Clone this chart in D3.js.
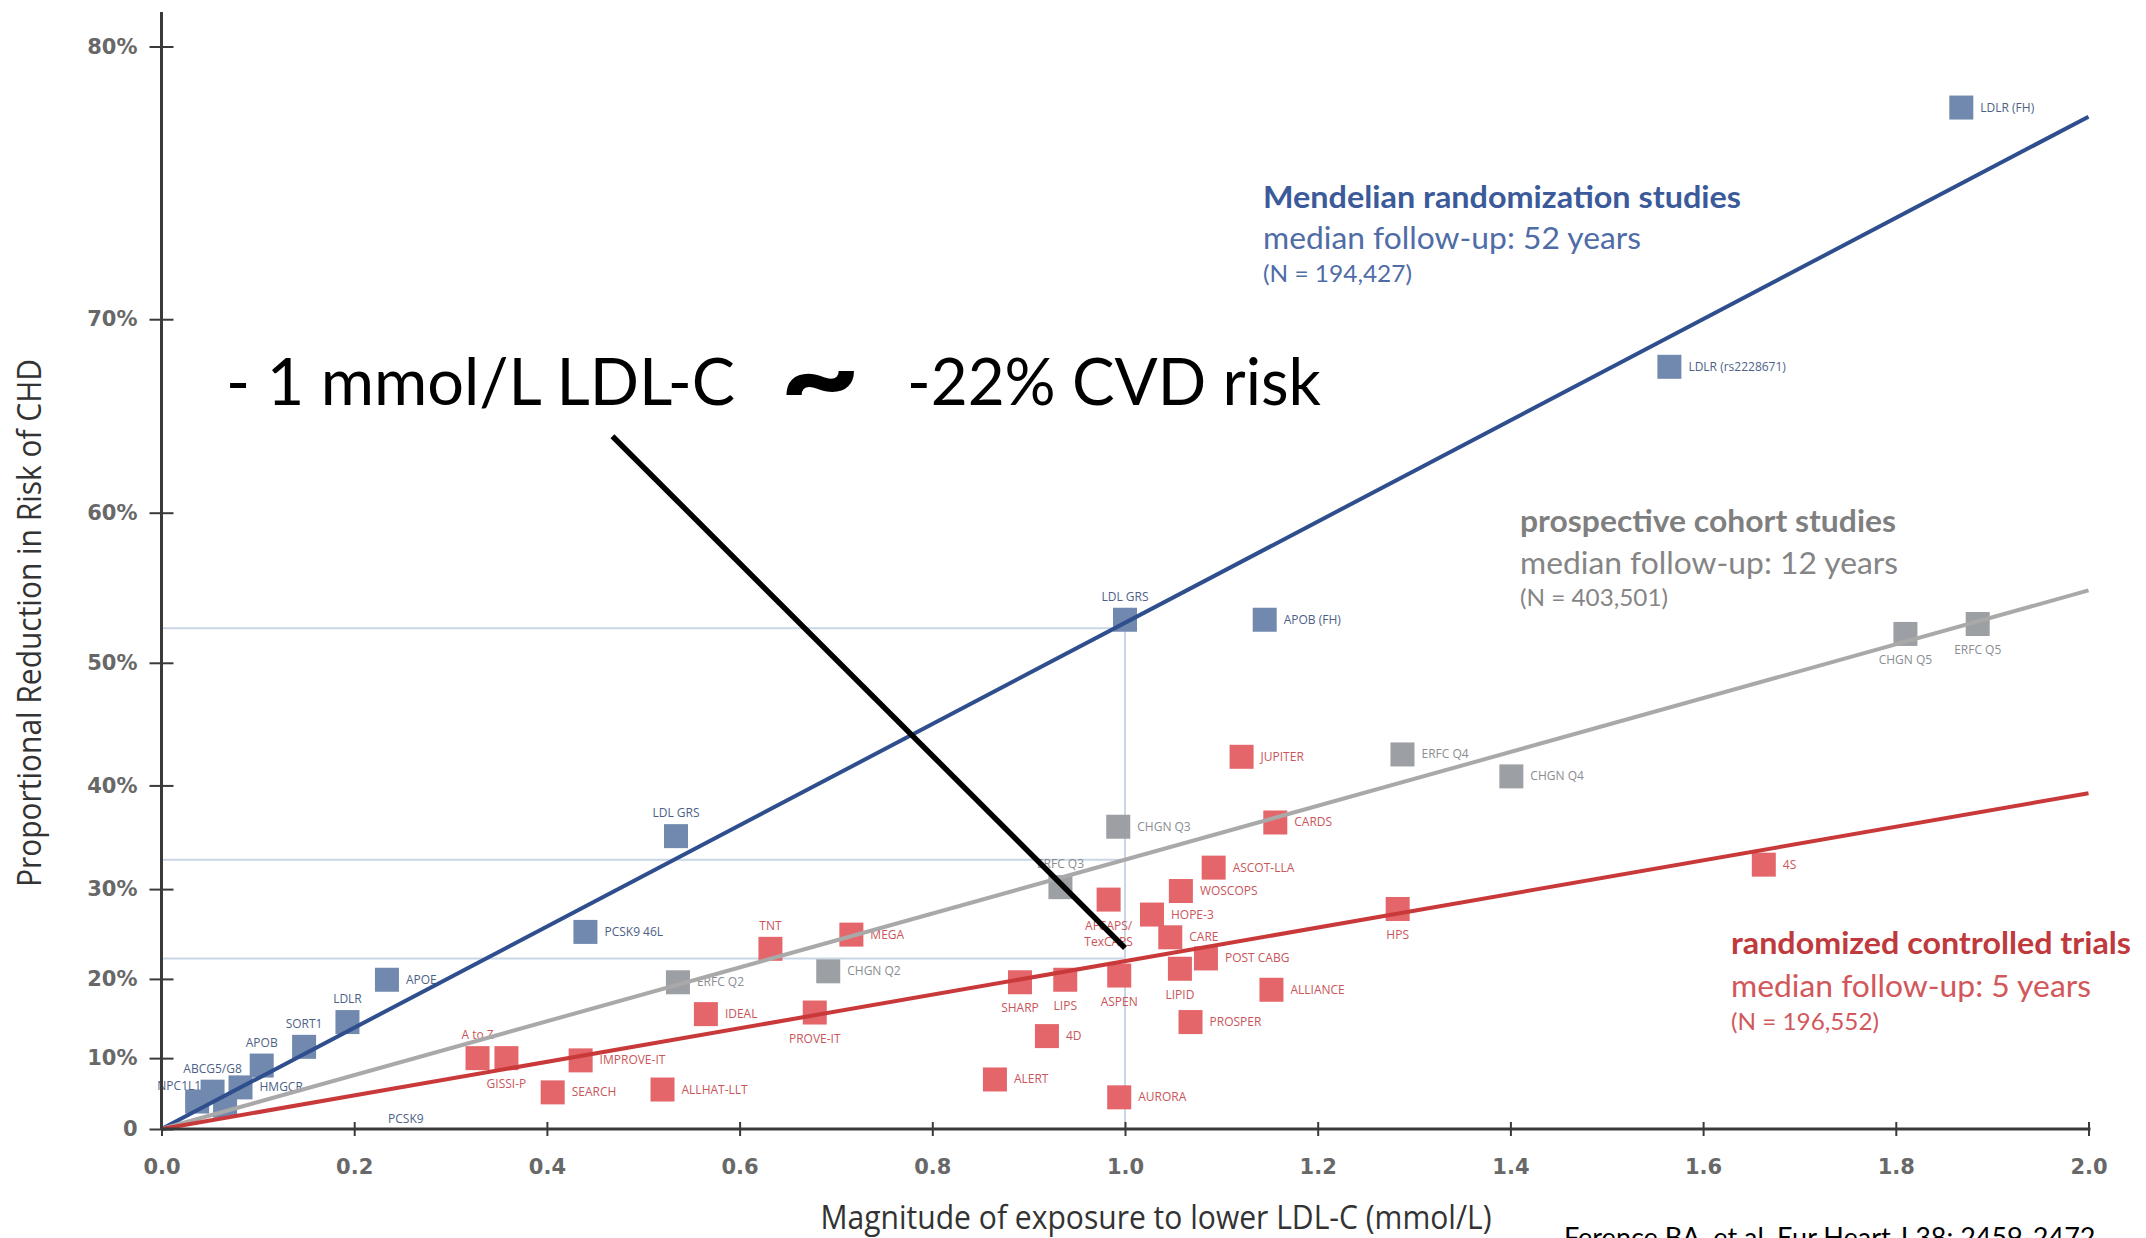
<!DOCTYPE html>
<html>
<head>
<meta charset="utf-8">
<script src="https://cdn.jsdelivr.net/npm/d3@7"></script>
<style>
  body { margin: 0; background: #fff; }
  svg { display: block; }
</style>
</head>
<body>
<svg id="chart" width="2146" height="1238"></svg>
<script>
// x = magnitude of LDL-C lowering (mmol/L), y = proportional reduction in CHD risk (%)
var mrNames = ["LDLR (FH)", "LDLR (rs2228671)", "APOB (FH)", "LDL GRS", "LDL GRS", "PCSK9 46L", "APOE", "LDLR", "SORT1", "APOB", "ABCG5/G8", "NPC1L1", "HMGCR", "PCSK9"];
var mrX = [1.868, 1.565, 1.145, 1.000, 0.534, 0.440, 0.234, 0.193, 0.148, 0.104, 0.053, 0.037, 0.082, 0.066];
var mrY = [78.1, 67.8, 53.1, 53.1, 35.3, 25.4, 19.9, 14.7, 11.5, 9.0, 5.4, 4.0, 6.0, 3.4];

var cohortNames = ["ERFC Q5", "CHGN Q5", "ERFC Q4", "CHGN Q4", "CHGN Q3", "ERFC Q3", "CHGN Q2", "ERFC Q2"];
var cohortX = [1.885, 1.810, 1.288, 1.401, 0.993, 0.933, 0.692, 0.536];
var cohortY = [52.8, 52.1, 42.7, 40.8, 36.2, 30.2, 20.9, 19.6];

var rctNames = ["4S", "HPS", "JUPITER", "CARDS", "ASCOT-LLA", "WOSCOPS", "HOPE-3", "AFCAPS/TexCAPS", "CARE", "POST CABG", "LIPID", "ALLIANCE", "PROSPER", "ASPEN", "LIPS", "SHARP", "4D", "ALERT", "AURORA", "MEGA", "TNT", "IDEAL", "PROVE-IT", "A to Z", "GISSI-P", "IMPROVE-IT", "SEARCH", "ALLHAT-LLT"];
var rctX = [1.663, 1.283, 1.121, 1.156, 1.092, 1.058, 1.028, 0.983, 1.047, 1.084, 1.057, 1.152, 1.068, 0.994, 0.938, 0.891, 0.919, 0.865, 0.994, 0.716, 0.632, 0.565, 0.678, 0.328, 0.358, 0.435, 0.406, 0.520];
var rctY = [32.5, 27.9, 42.5, 36.6, 32.2, 29.8, 27.3, 28.9, 24.8, 22.4, 21.2, 18.7, 14.7, 20.4, 19.9, 19.6, 12.9, 7.1, 4.6, 25.1, 23.5, 15.7, 15.9, 10.0, 10.0, 9.7, 5.3, 5.7];

// fitted lines: [x, y] end points
var mrLine = [[0, 0], [2.0, 77.8]];
var cohortLine = [[0, 0], [2.0, 55.1]];
var rctLine = [[0, 0], [2.0, 39.3]];

// reference guides at 1 mmol/L
var guideLevels = [52.5, 33.0, 22.4];
var guideX = 1.0;

var xTicks = [0, 0.2, 0.4, 0.6, 0.8, 1.0, 1.2, 1.4, 1.6, 1.8, 2.0];
var yTicks = [0, 10, 20, 30, 40, 50, 60, 70, 80];
var yTickLabels = ["0", "10%", "20%", "30%", "40%", "50%", "60%", "70%", "80%"];

var groupTitles = ["Mendelian randomization studies", "prospective cohort studies", "randomized controlled trials"];
var groupFollowUp = ["median follow-up: 52 years", "median follow-up: 12 years", "median follow-up: 5 years"];
var groupN = ["(N = 194,427)", "(N = 403,501)", "(N = 196,552)"];

var annotationLeft = "- 1 mmol/L LDL-C";
var annotationTilde = "~";
var annotationRight = "-22% CVD risk";
var annotationArrow = [[0.468, 64.3], [1.0, 23.6]];

var xTitle = "Magnitude of exposure to lower LDL-C (mmol/L)";
var yTitle = "Proportional Reduction in Risk of CHD";
var citation = "Ference BA, et al. Eur Heart J 38: 2459-2472";

// ---------- styles ----------
var colors = {
  mr: { sq: "#7189ae", line: "#2f4e8e", label: "#4d5f86", title: "#3b5a9a", sub: "#4f6ca6" },
  cohort: { sq: "#9c9fa4", line: "#a9a9a9", label: "#8a8d92", title: "#7f7f7f", sub: "#858585" },
  rct: { sq: "#e4666b", line: "#c9393a", label: "#c9555a", title: "#c0393c", sub: "#d2575b" }
};
var placement = {
  "LDL GRS": "t", "LDLR": "t", "SORT1": "t", "APOB": "t", "ABCG5/G8": "t", "NPC1L1": "tl",
  "CHGN Q5": "b", "ERFC Q5": "b", "ERFC Q3": "t", "HPS": "b", "TNT": "t", "A to Z": "t",
  "GISSI-P": "b", "PROVE-IT": "b", "SHARP": "b", "LIPS": "b", "ASPEN": "b", "LIPID": "b",
  "AFCAPS/TexCAPS": "b2", "PCSK9": "far"
};

var svg = d3.select("#chart");

var x = d3.scaleLinear().domain([0, 2]).range([161.5, 2088.5]);
// the figure uses a log relative-risk axis, labelled as proportional reduction
var yLog = d3.scaleLog().domain([1, 0.2]).range([1129, 46.5]);
function y(v) { return yLog(1 - v / 100); }

var sq = 24;

// guides
var guides = svg.append("g").attr("stroke", "#c9d6e6").attr("stroke-width", 2);
guides.selectAll("line.h")
  .data(guideLevels)
  .enter().append("line")
  .attr("x1", x(0)).attr("x2", x(guideX))
  .attr("y1", function(d) { return y(d); })
  .attr("y2", function(d) { return y(d); });
guides.append("line")
  .attr("x1", x(guideX)).attr("x2", x(guideX))
  .attr("y1", y(d3.max(guideLevels))).attr("y2", y(0));

// squares + labels
function drawGroup(names, xs, ys, c) {
  var data = names.map(function(n, i) { return { name: n, x: xs[i], y: ys[i] }; });
  var g = svg.append("g");
  g.selectAll("rect")
    .data(data)
    .enter().append("rect")
    .attr("x", function(d) { return x(d.x) - sq / 2; })
    .attr("y", function(d) { return y(d.y) - sq / 2; })
    .attr("width", sq).attr("height", sq)
    .attr("fill", c.sq);

  g.selectAll("text")
    .data(data)
    .enter().append("text")
    .attr("font-family", "'Liberation Sans Narrow', 'Open Sans', sans-serif")
    .attr("font-size", 12)
    .attr("fill", c.label)
    .each(function(d) {
      var p = placement[d.name] || "r";
      var cx = x(d.x), cy = y(d.y);
      var el = d3.select(this);
      if (p === "r") {
        el.attr("x", cx + 19).attr("y", cy + 4).attr("text-anchor", "start").text(d.name);
      } else if (p === "t") {
        el.attr("x", cx).attr("y", cy - 19).attr("text-anchor", "middle").text(d.name);
      } else if (p === "tl") {
        el.attr("x", cx + 4).attr("y", cy - 12).attr("text-anchor", "end").text(d.name);
      } else if (p === "b") {
        el.attr("x", cx).attr("y", cy + 30).attr("text-anchor", "middle").text(d.name);
      } else if (p === "far") {
        el.attr("x", cx + 163).attr("y", cy + 17).attr("text-anchor", "start").text(d.name);
      } else if (p === "b2") {
        var parts = d.name.split("/");
        el.attr("text-anchor", "middle");
        el.append("tspan").attr("x", cx).attr("y", cy + 30).text(parts[0] + "/");
        el.append("tspan").attr("x", cx).attr("y", cy + 46).text(parts[1]);
      }
    });
}
drawGroup(mrNames, mrX, mrY, colors.mr);
drawGroup(cohortNames, cohortX, cohortY, colors.cohort);
drawGroup(rctNames, rctX, rctY, colors.rct);

// fitted lines
var lineGen = d3.line().x(function(d) { return x(d[0]); }).y(function(d) { return y(d[1]); });
[[mrLine, colors.mr.line], [cohortLine, colors.cohort.line], [rctLine, colors.rct.line]].forEach(function(l) {
  svg.append("path")
    .attr("d", lineGen(l[0]))
    .attr("fill", "none")
    .attr("stroke", l[1])
    .attr("stroke-width", 4);
});

// axes
var xAxis = d3.axisBottom(x)
  .tickValues(xTicks)
  .tickFormat(d3.format(".1f"))
  .tickSizeOuter(0);
var gx = svg.append("g")
  .attr("transform", "translate(0," + y(0) + ")")
  .call(xAxis);
gx.select(".domain").attr("stroke", "#3a3a3a").attr("stroke-width", 3)
  .attr("d", "M" + x(0) + ",0H" + (x(2) + 2));
gx.selectAll(".tick line").attr("y1", -7).attr("y2", 7).attr("stroke", "#3a3a3a").attr("stroke-width", 2);
gx.selectAll(".tick text")
  .attr("y", 30)
  .attr("font-family", "'DejaVu Sans', sans-serif")
  .attr("font-weight", "bold")
  .attr("font-size", 21)
  .attr("fill", "#686868");

var yAxis = d3.axisLeft(yLog)
  .tickValues(yTicks.map(function(t) { return 1 - t / 100; }))
  .tickFormat(function(d, i) { return yTickLabels[i]; })
  .tickSizeOuter(0);
var gy = svg.append("g")
  .attr("transform", "translate(" + x(0) + ",0)")
  .call(yAxis);
gy.select(".domain").attr("stroke", "#3a3a3a").attr("stroke-width", 3)
  .attr("d", "M0," + y(0) + "V" + y(81));
gy.selectAll(".tick line").attr("x1", -12).attr("x2", 12).attr("stroke", "#3a3a3a").attr("stroke-width", 2);
gy.selectAll(".tick text")
  .attr("x", -24)
  .attr("font-family", "'DejaVu Sans', sans-serif")
  .attr("font-weight", "bold")
  .attr("font-size", 21)
  .attr("fill", "#686868");

// axis titles
svg.append("text")
  .attr("x", 1156).attr("y", 1229)
  .attr("text-anchor", "middle")
  .attr("font-family", "'Liberation Sans Narrow', 'Open Sans', sans-serif")
  .attr("font-size", 32)
  .attr("fill", "#333")
  .attr("textLength", 671).attr("lengthAdjust", "spacingAndGlyphs")
  .text(xTitle);

svg.append("text")
  .attr("transform", "translate(41,623) rotate(-90)")
  .attr("text-anchor", "middle")
  .attr("font-family", "'Liberation Sans Narrow', 'Open Sans', sans-serif")
  .attr("font-size", 32)
  .attr("fill", "#333")
  .attr("textLength", 528).attr("lengthAdjust", "spacingAndGlyphs")
  .text(yTitle);

// group annotations
var groupStyle = [
  { x: 1263, y: [208, 249, 282], w: [478, 378, 149], c: colors.mr },
  { x: 1520, y: [532, 574, 606], w: [376, 378, 148], c: colors.cohort },
  { x: 1731, y: [954, 997, 1030], w: [400, 360, 148], c: colors.rct }
];
groupTitles.forEach(function(t, i) {
  var s = groupStyle[i];
  var lines = [t, groupFollowUp[i], groupN[i]];
  lines.forEach(function(txt, j) {
    svg.append("text")
      .attr("x", s.x).attr("y", s.y[j])
      .attr("font-family", "Lato, 'Open Sans', sans-serif")
      .attr("font-weight", j === 0 ? "bold" : "normal")
      .attr("font-size", j === 2 ? 23 : 31)
      .attr("fill", j === 0 ? s.c.title : s.c.sub)
      .attr("textLength", s.w[j]).attr("lengthAdjust", "spacingAndGlyphs")
      .text(txt);
  });
});

// big annotation
svg.append("text")
  .attr("x", 226).attr("y", 405)
  .attr("font-family", "Lato, 'Open Sans', sans-serif")
  .attr("font-size", 66)
  .attr("fill", "#000")
  .attr("textLength", 509).attr("lengthAdjust", "spacingAndGlyphs")
  .text(annotationLeft);
svg.append("text")
  .attr("x", 820).attr("y", 418)
  .attr("text-anchor", "middle")
  .attr("font-family", "Lato, 'Open Sans', sans-serif")
  .attr("font-weight", "900")
  .attr("font-size", 120)
  .attr("fill", "#000")
  .attr("textLength", 80).attr("lengthAdjust", "spacingAndGlyphs")
  .text(annotationTilde);
svg.append("text")
  .attr("x", 907).attr("y", 405)
  .attr("font-family", "Lato, 'Open Sans', sans-serif")
  .attr("font-size", 66)
  .attr("fill", "#000")
  .attr("textLength", 414).attr("lengthAdjust", "spacingAndGlyphs")
  .text(annotationRight);

svg.append("path")
  .attr("d", lineGen(annotationArrow))
  .attr("stroke", "#000")
  .attr("stroke-width", 5.5)
  .attr("fill", "none");

// source (cut at the page edge, as in the slide)
svg.append("text")
  .attr("x", 1564).attr("y", 1247)
  .attr("font-family", "Lato, 'Open Sans', sans-serif")
  .attr("font-size", 27)
  .attr("fill", "#000")
  .text(citation);
</script>
</body>
</html>
